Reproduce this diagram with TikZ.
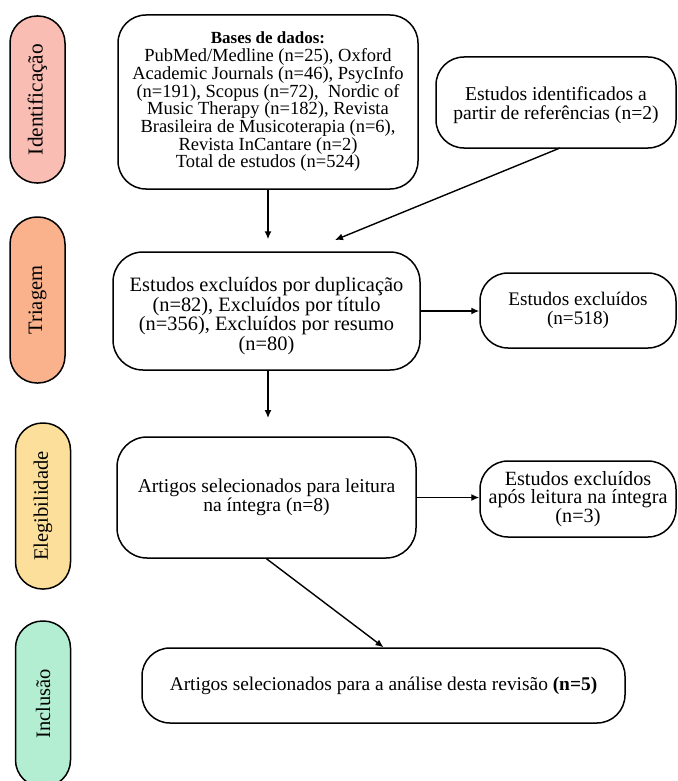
\documentclass[tikz,border=0pt]{standalone}
\usepackage{fontspec}
\setmainfont{Liberation Serif}
\usetikzlibrary{arrows.meta,calc}
\definecolor{cpink}{HTML}{F9BDB3}
\definecolor{corange}{HTML}{F9B28B}
\definecolor{cyellow}{HTML}{FDDF9C}
\definecolor{cgreen}{HTML}{B3EED2}
\begin{document}
\begin{tikzpicture}[x=1pt,y=-1pt,
  box/.style={draw, line width=1.5pt, rounded corners=28pt, align=center, inner sep=2pt, fill=white},
  pill/.style={draw, line width=1.5pt, rounded corners=27pt, rotate=90, minimum height=55pt, minimum width=166pt, inner sep=0pt, font=\fontsize{20.5}{22}\selectfont},
  arr/.style={-{Latex[length=8pt,width=7pt]}, line width=1.4pt}
]
\useasboundingbox (0,0) rectangle (677,781);

% phase pills
\node[pill, fill=cpink, minimum width=167pt, font=\fontsize{21.3}{22}\selectfont] (p1) at (37.5,99.5) {Identificação};
\node[pill, fill=corange] (p2) at (37.5,300) {Triagem};
\node[pill, fill=cyellow] (p3) at (43,506) {Elegibilidade};
\node[pill, fill=cgreen] (p4) at (43,704) {Inclusão};

% main boxes
\node[box, minimum width=300pt, minimum height=174pt, font=\fontsize{18.5}{17.7}\selectfont] (b1) at (268,102) {{\fontsize{17}{17.7}\selectfont\textbf{Bases de dados:}}\\PubMed/Medline (n=25), Oxford\\Academic Journals (n=46), PsycInfo\\(n=191), Scopus (n=72),\ \ Nordic of\\Music Therapy (n=182), Revista\\Brasileira de Musicoterapia (n=6),\\Revista InCantare (n=2)\\Total de estudos (n=524)};

\node[box, minimum width=240pt, minimum height=91pt, font=\fontsize{19.6}{19.5}\selectfont] (refs) at (556,102.5) {\rule{0pt}{19pt}Estudos identificados a\\partir de referências (n=2)};

\node[box, minimum width=307pt, minimum height=118pt, rounded corners=30pt, font=\fontsize{20.4}{18.3}\selectfont] (b2) at (266.5,311) {\rule{0pt}{24pt}Estudos excluídos por duplicação\\(n=82), Excluídos por título\\(n=356), Excluídos por resumo\\(n=80)};

\node[box, minimum width=196pt, minimum height=75pt, font=\fontsize{19.2}{18.5}\selectfont] (e1) at (578,310.5) {Estudos excluídos\\(n=518)};

\node[box, minimum width=299pt, minimum height=121pt, rounded corners=30pt, font=\fontsize{19.6}{17.5}\selectfont] (b3) at (266.5,497.5) {Artigos selecionados para leitura\\na íntegra (n=8)};

\node[box, minimum width=196pt, minimum height=76pt, font=\fontsize{20.2}{18.6}\selectfont] (e2) at (578,499) {Estudos excluídos\\após leitura na íntegra\\(n=3)};

\node[box, minimum width=483pt, minimum height=75pt, font=\fontsize{19.4}{18}\selectfont] (b4) at (383.5,685.5) {Artigos selecionados para a análise desta revisão \textbf{(n=5)}};

% connector end points
\coordinate (t1) at (335,240);
\coordinate (s2) at (268,370);
\coordinate (t2) at (268,418);
\coordinate (s1) at (560,148);

% connectors
\draw[arr, shorten >=12pt] (b1.south) -- (b1.south |- b2.north);
\draw[arr] (s1) -- (t1);
\draw[arr] (b2.east) -- (e1.west |- b2.east);
\draw[arr] (s2) -- (t2);
\draw[arr] (b3.east) -- (e2.west |- b3.east);
\draw[arr] (b3.south) -- (b4.north);
\end{tikzpicture}
\end{document}
